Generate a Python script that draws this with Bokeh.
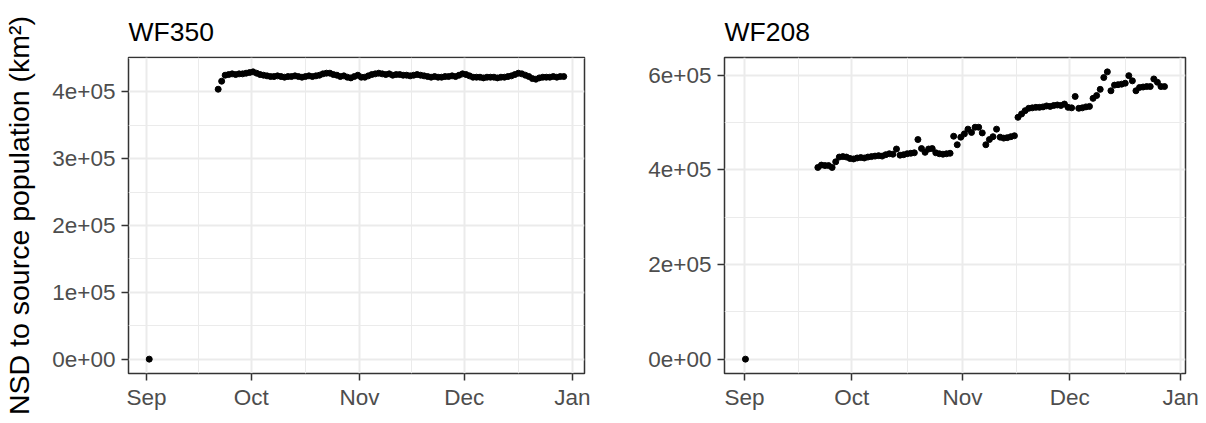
import pandas as pd
from bokeh.plotting import figure
from bokeh.layouts import row
from bokeh.models import (ColumnDataSource, Range1d, FixedTicker, CustomJSTickFormatter)
from bokeh.embed import file_html
from bokeh.resources import INLINE

# ---------------- data ----------------
titles = ["WF350", "WF208"]
y_label = "NSD to source population (km²)"
month_ticks = ["2022-09-01", "2022-10-01", "2022-11-01", "2022-12-01", "2023-01-01"]

# WF350: release point + daily fixes (values in km²)
wf350_first_time = "2022-09-01 18:00"
wf350_first_value = 0
wf350_start = "2022-09-21 12:00"
wf350_values = [
    404000, 416000, 425000, 426000, 427000, 426000, 427000, 427000, 428000, 429000,
    430000, 428000, 426000, 425000, 424000, 423000, 423000, 424000, 423000, 422000,
    423000, 423000, 424000, 423000, 422000, 423000, 424000, 423000, 424000, 425000,
    427000, 428000, 428000, 426000, 425000, 423000, 424000, 422000, 421000, 423000,
    425000, 422000, 422000, 424000, 426000, 427000, 428000, 427000, 426000, 427000,
    425000, 426000, 426000, 425000, 425000, 424000, 425000, 426000, 425000, 424000,
    423000, 422000, 423000, 422000, 422000, 423000, 423000, 424000, 423000, 425000,
    427000, 426000, 424000, 422000, 422000, 422000, 421000, 422000, 422000, 422000,
    421000, 422000, 422000, 423000, 424000, 426000, 428000, 427000, 425000, 423000,
    420000, 419000, 421000, 422000, 422000, 422000, 423000, 422000, 423000, 423000,
]

# WF208
wf208_first_time = "2022-09-01 06:00"
wf208_first_value = 0
wf208_start = "2022-09-21 12:00"
wf208_values = [
    405000, 410000, 409000, 409000, 405000, 417000, 427000, 428000, 427000, 424000,
    423000, 425000, 426000, 425000, 427000, 428000, 429000, 430000, 429000, 432000,
    434000, 433000, 444000, 431000, 432000, 434000, 435000, 436000, 464000, 445000,
    437000, 444000, 445000, 436000, 434000, 433000, 434000, 435000, 471000, 453000,
    469000, 476000, 486000, 479000, 490000, 490000, 478000, 453000, 464000, 470000,
    486000, 469000, 467000, 468000, 470000, 472000, 511000, 518000, 525000, 530000,
    531000, 532000, 532000, 533000, 535000, 534000, 536000, 537000, 536000, 539000,
    532000, 531000, 555000, 530000, 531000, 533000, 534000, 551000, 557000, 570000,
    595000, 607000, 567000, 579000, 580000, 581000, 583000, 599000, 588000, 567000,
    574000, 575000, 576000, 576000, 592000, 585000, 576000, 576000,
]

y_major = [[0, 100000, 200000, 300000, 400000], [0, 200000, 400000, 600000]]
y_minor = [[50000, 150000, 250000, 350000, 450000], [100000, 300000, 500000]]

# ---------------- styling helpers ----------------
FONT = "Liberation Sans"
GRID = "#EBEBEB"
DARK = "#333333"

def ms(ts):
    return pd.Timestamp(ts).value / 1e6

y_fmt = CustomJSTickFormatter(code="""
    var s = tick.toExponential(0);
    var parts = s.split('e');
    var e = parseInt(parts[1]);
    var sign = e < 0 ? '-' : '+';
    var a = Math.abs(e);
    return parts[0] + 'e' + sign + (a < 10 ? '0' + a : '' + a);
""")
x_fmt = CustomJSTickFormatter(code="""
    var m = ['Jan','Feb','Mar','Apr','May','Jun','Jul','Aug','Sep','Oct','Nov','Dec'];
    return m[new Date(tick).getUTCMonth()];
""")

x_major = [ms(t) for t in month_ticks]
x_minor = [(x_major[i] + x_major[i + 1]) / 2 for i in range(len(x_major) - 1)]


def panel(title, first_time, first_value, start, values, ymaj, ymin_, width,
          bl, br, ylabel=None):
    times = [pd.Timestamp(first_time)] + list(pd.date_range(start, periods=len(values), freq="D"))
    vals = [first_value] + values
    src = ColumnDataSource(dict(t=times, v=vals))

    tms = [t.value / 1e6 for t in times]
    xpad = (max(tms) - min(tms)) * 0.05
    ypad = (max(vals) - min(vals)) * 0.05

    p = figure(width=width, height=423, output_backend="svg", toolbar_location=None,
               x_axis_type="datetime",
               x_range=Range1d(min(tms) - xpad, max(tms) + xpad),
               y_range=Range1d(min(vals) - ypad, max(vals) + ypad),
               min_border_left=bl, min_border_right=br,
               min_border_top=57, min_border_bottom=50)
    p.title.text = title
    p.title.text_font = FONT
    p.title.text_font_size = "26.5px"
    p.title.text_font_style = "normal"
    p.title.text_color = "black"
    p.title.align = "left"
    p.title.standoff = 21

    p.scatter("t", "v", source=src, size=6, color="black")

    p.xaxis.ticker = FixedTicker(ticks=x_major, minor_ticks=x_minor)
    p.yaxis.ticker = FixedTicker(ticks=ymaj, minor_ticks=ymin_)
    p.xaxis.formatter = x_fmt
    p.yaxis.formatter = y_fmt

    for ax in (p.xaxis[0], p.yaxis[0]):
        ax.axis_line_color = None
        ax.major_tick_in = 0
        ax.major_tick_out = 7
        ax.major_tick_line_color = DARK
        ax.major_tick_line_width = 1.5
        ax.minor_tick_line_color = None
        ax.major_label_text_font = FONT
        ax.major_label_text_font_size = "22.5px"
        ax.major_label_text_color = "#4D4D4D"
    p.xaxis.major_label_standoff = 4
    p.yaxis.major_label_standoff = 6

    if ylabel:
        p.yaxis.axis_label = ylabel
        p.yaxis.axis_label_text_font = FONT
        p.yaxis.axis_label_text_font_size = "28.5px"
        p.yaxis.axis_label_text_font_style = "normal"
        p.yaxis.axis_label_text_color = "black"
        p.yaxis.axis_label_standoff = 14

    for g in (p.xgrid[0], p.ygrid[0]):
        g.grid_line_color = GRID
        g.grid_line_width = 2
        g.minor_grid_line_color = GRID
        g.minor_grid_line_width = 1

    p.outline_line_color = DARK
    p.outline_line_width = 1.5
    p.outline_line_alpha = 1
    p.background_fill_color = "white"
    p.border_fill_color = "white"
    return p


p1 = panel(titles[0], wf350_first_time, wf350_first_value, wf350_start, wf350_values,
           y_major[0], y_minor[0], 608, 126, 24, ylabel=y_label)
p2 = panel(titles[1], wf208_first_time, wf208_first_value, wf208_start, wf208_values,
           y_major[1], y_minor[1], 598, 116, 21)

layout = row(p1, p2)
open("out.html", "w").write(file_html(layout, INLINE))
